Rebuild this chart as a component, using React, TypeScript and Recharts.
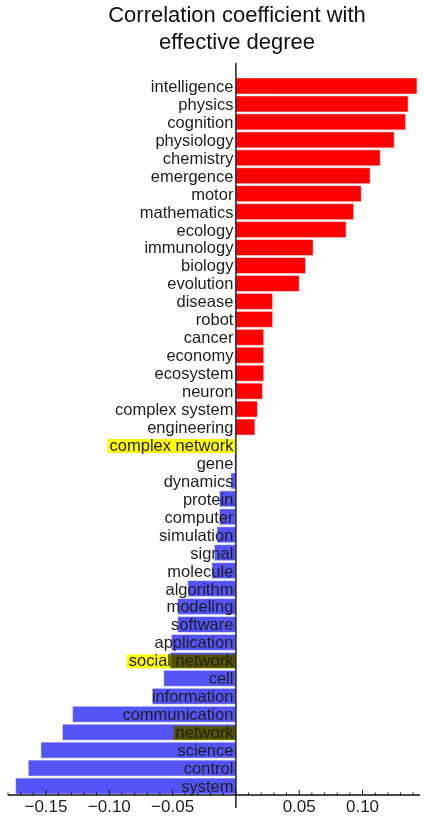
import { BarChart, Bar, XAxis, YAxis, ReferenceLine, LabelList } from "recharts"

// terms ranked by their correlation with effective degree
const terms = [
  "intelligence", "physics", "cognition", "physiology", "chemistry",
  "emergence", "motor", "mathematics", "ecology", "immunology",
  "biology", "evolution", "disease", "robot", "cancer",
  "economy", "ecosystem", "neuron", "complex system", "engineering",
  "complex network", "gene", "dynamics", "protein", "computer",
  "simulation", "signal", "molecule", "algorithm", "modeling",
  "software", "application", "social network", "cell", "information",
  "communication", "network", "science", "control", "system",
]

const coefficients = [
  0.143, 0.136, 0.134, 0.125, 0.114,
  0.106, 0.099, 0.093, 0.087, 0.061,
  0.055, 0.05, 0.029, 0.029, 0.022,
  0.022, 0.022, 0.021, 0.017, 0.015,
  0, -0.001, -0.004, -0.013, -0.013,
  -0.015, -0.017, -0.019, -0.038, -0.046,
  -0.046, -0.051, -0.052, -0.057, -0.066,
  -0.129, -0.137, -0.154, -0.164, -0.174,
]

const highlighted = ["complex network", "social network", "network"]

const xTicks = [
  -0.18, -0.17, -0.16, -0.15, -0.14, -0.13, -0.12, -0.11, -0.1, -0.09, -0.08,
  -0.07, -0.06, -0.05, -0.04, -0.03, -0.02, -0.01, 0, 0.01, 0.02, 0.03,
  0.04, 0.05, 0.06, 0.07, 0.08, 0.09, 0.1, 0.11, 0.12, 0.13, 0.14,
]

const data = terms.map((term, i) => ({ term, value: coefficients[i] }))

const FONT = "'Liberation Sans', Arial, Helvetica, sans-serif"
const LABEL_SIZE = 16.5

let measureCtx: CanvasRenderingContext2D | null = null
function textWidth(s: string) {
  if (!measureCtx) measureCtx = document.createElement("canvas").getContext("2d")
  if (!measureCtx) return s.length * 8
  measureCtx.font = `${LABEL_SIZE}px ${FONT}`
  return measureCtx.measureText(s).width
}

const BarShape = (props: any) => {
  const { x, y, width, height, payload } = props
  const left = Math.min(x, x + width)
  const w = Math.abs(width)
  if (!w) return null
  const fill = payload.value >= 0 ? "#ff0000" : "#5454f6"
  return (
    <rect x={left} y={y} width={w} height={height} fill={fill}
      stroke="rgba(255,255,255,0.5)" strokeWidth={1} />
  )
}

const TermLabel = (props: any) => {
  const { viewBox, index } = props
  if (!viewBox) return null
  const { x, y, width, height } = viewBox
  const v = coefficients[index]
  const zeroX = v >= 0 ? Math.min(x, x + width) : Math.max(x, x + width)
  const cy = y + height / 2
  const term = terms[index]
  const tx = zeroX - 2.5
  const hl = highlighted.includes(term)
  const hlLeft = tx - textWidth(term) - 2
  return (
    <g>
      {hl && (
        <rect x={hlLeft} y={cy - 6} width={zeroX - hlLeft} height={14}
          fill="#ffff00" style={{ mixBlendMode: "multiply" }} />
      )}
      <text x={tx} y={cy} dy="0.36em" textAnchor="end" fontSize={LABEL_SIZE}
        fontFamily={FONT} fill="#1e1e1e">{term}</text>
    </g>
  )
}

const XTick = (props: any) => {
  const { x, y, payload } = props
  const v = payload.value
  const hundredths = Math.round(v * 100)
  const major = hundredths % 5 === 0
  return (
    <g>
      <line x1={x} y1={y} x2={x} y2={y - (major ? 5 : 2.5)} stroke="#111" strokeWidth={1} />
      {major && hundredths !== 0 && (
        <text x={x} y={y + 17} textAnchor="middle" fontSize={17} fontFamily={FONT} fill="#1e1e1e">
          {v < 0 ? "\u2212" : ""}{Math.abs(v).toFixed(2)}
        </text>
      )}
    </g>
  )
}

const ZeroLine = (p: any) => {
  const top = Math.min(p.y1, p.y2)
  const bottom = Math.max(p.y1, p.y2)
  return <line x1={p.x1} y1={top - 14} x2={p.x2} y2={bottom + 13} stroke="#111" strokeWidth={1.4} />
}

export default function App() {
  return (
    <div style={{ position: "absolute", left: 0, top: 0, width: 424, height: 817, background: "#fff" }}>
      <div
        style={{
          position: "absolute", left: 50, top: 2, width: 374, textAlign: "center",
          fontFamily: FONT, fontSize: 22, lineHeight: "26.6px", color: "#111",
        }}
      >
        Correlation coefficient with
        <br />
        effective degree
      </div>
      <BarChart
        width={424}
        height={817}
        data={data}
        layout="vertical"
        margin={{ top: 77, right: 4, bottom: 0, left: 8 }}
        barCategoryGap={1}
      >
        <XAxis
          type="number"
          domain={[-0.18, 0.1454]}
          ticks={xTicks}
          interval={0}
          tickSize={0}
          tickMargin={0}
          tickLine={false}
          axisLine={{ stroke: "#111", strokeWidth: 1.3 }}
          tick={<XTick />}
          height={22}
          allowDataOverflow
        />
        <YAxis type="category" dataKey="term" hide />
        <Bar dataKey="value" shape={<BarShape />} isAnimationActive={false}>
          <LabelList dataKey="value" content={<TermLabel />} />
        </Bar>
        <ReferenceLine x={0} shape={<ZeroLine />} />
      </BarChart>
    </div>
  )
}
